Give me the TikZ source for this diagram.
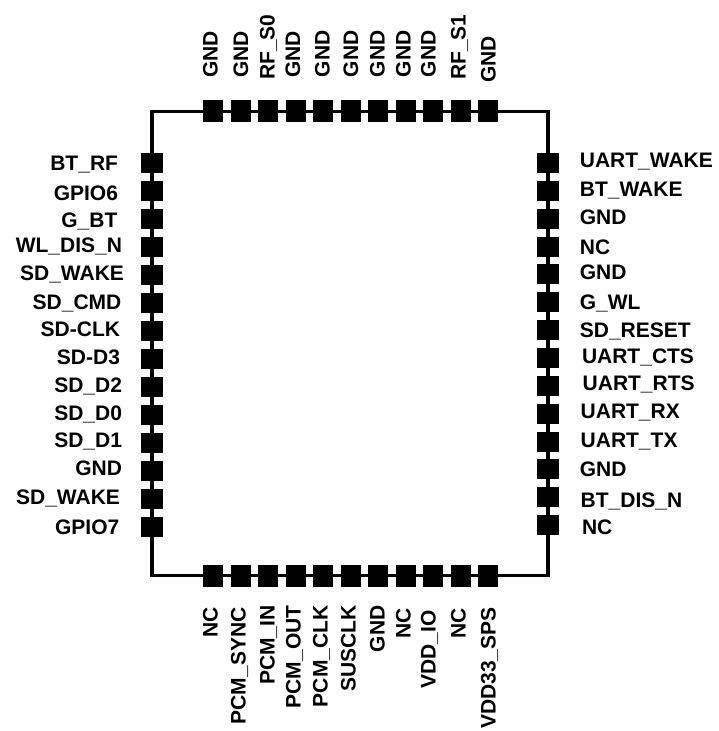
\documentclass[tikz,border=0pt]{standalone}
\usepackage{fontspec}
\setmainfont{Liberation Sans}
\usetikzlibrary{positioning}

\begin{document}
\begin{tikzpicture}[
				x=0.75pt, y=-0.75pt,
				body/.style={draw=black, line width=2.5pt},
				padh/.style={rectangle, fill=black, inner sep=0pt, outer sep=0pt, minimum width=15pt, minimum height=16.5pt},
				padv/.style={rectangle, fill=black, inner sep=0pt, outer sep=0pt, minimum width=17pt, minimum height=15pt},
				pin/.style={inner sep=0pt, outer sep=0pt, text height=11.3pt, text depth=0pt, font=\fontsize{15.75}{18}\selectfont\bfseries}
			]
			\useasboundingbox (0,0) rectangle (718,731);
			\coordinate (corner1) at (152,111.5);
			\coordinate (corner2) at (548,575.5);
			\draw[body] (corner1) rectangle (corner2);
			% pads
			\node[padh] (top1) at (213,111.5) {};
			\node[padh] (bot1) at (213,575.5) {};
			\node[padv] (lft1) at (152,163) {};
			\node[padv] (rgt1) at (548,163) {};
			\foreach \i [count=\j from 2] in {1,...,10} {
				\node[padh, right=5.63pt of top\i] (top\j) {};
				\node[padh, right=5.63pt of bot\i] (bot\j) {};
			}
			\foreach \i [count=\j from 2] in {1,...,13} {
				\node[padv, below=6pt of lft\i] (lft\j) {};
				\node[padv, below=5.89pt of rgt\i] (rgt\j) {};
			}
			% left labels
			\foreach \i/\txt/\gap/\dy in {
				1/BT\_RF/17/0, 2/GPIO6/17/-1.5, 3/G\_BT/17.5/-0.75, 4/WL\_DIS\_N/14/1.5,
				5/SD\_WAKE/12.5/1.5, 6/SD\_CMD/14.5/0.75, 7/SD-CLK/15.5/1.5, 8/SD-D3/15.5/1.5,
				9/SD\_D2/14/1.5, 10/SD\_D0/14/1.5, 11/SD\_D1/14/2.25, 12/GND/14/2.25,
				13/SD\_WAKE/15.5/1.5, 14/GPIO7/16/0}
				\node[pin, left=\gap pt of lft\i, yshift=\dy pt] (lftlabel\i) {\txt};
			% right labels
			\foreach \i/\txt/\gap/\dy in {
				1/UART\_WAKE/15.4/2.25, 2/BT\_WAKE/15.4/1.5, 3/GND/15.4/1.5, 4/NC/15.4/0,
				5/GND/15.4/1.5, 6/G\_WL/15.4/0, 7/SD\_RESET/15.4/0, 8/UART\_CTS/17/1.5,
				9/UART\_RTS/17.5/2.25, 10/UART\_RX/16/2.25, 11/UART\_TX/16/1, 12/GND/15.4/0,
				13/BT\_DIS\_N/16/-2.25, 14/NC/17/-1.5}
				\node[pin, right=\gap pt of rgt\i, yshift=\dy pt] (rgtlabel\i) {\txt};
			% top labels
			\foreach \i/\txt/\gap/\dx in {
				1/GND/17/-2.25, 2/GND/17/0, 3/RF\_S0/15.5/-0.75, 4/GND/17/-2.25,
				5/GND/17.5/-0.75, 6/GND/17.5/0, 7/GND/17.5/-0.75, 8/GND/17.5/-1.9,
				9/GND/17.5/-3.75, 10/RF\_S1/15.5/-1.9, 11/GND/13.3/0}
				\node[pin, above=\gap pt of top\i, anchor=west, xshift=\dx pt, rotate=90] (toplabel\i) {\txt};
			% bottom labels
			\foreach \i/\txt/\gap/\dx in {
				1/NC/15.75/-2.25, 2/PCM\_SYNC/15.75/-1.9, 3/PCM\_IN/14.25/-0.75, 4/PCM\_OUT/14.25/-1.9,
				5/PCM\_CLK/14.25/-2.25, 6/SUSCLK/14.25/-1.9, 7/GND/14.25/-0.75, 8/NC/16.5/-1.9,
				9/VDD\_IO/18/-3.75, 10/NC/16.5/-1.9, 11/VDD33\_SPS/15.75/0}
				\node[pin, below=\gap pt of bot\i, anchor=east, xshift=\dx pt, rotate=90] (botlabel\i) {\txt};
			\end{tikzpicture}
\end{document}
